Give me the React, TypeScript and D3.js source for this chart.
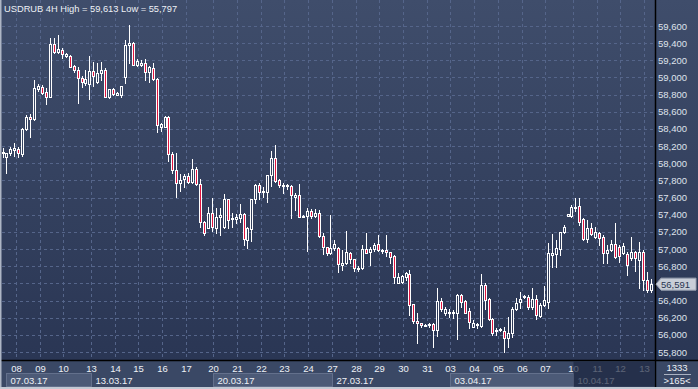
import { useRef, useEffect } from 'react'
import * as d3 from 'd3'

// USDRUB 4H candles
const opens = [
  58116, 58078, 58116, 58155, 58163, 58109, 58396, 58535, 58512, 58861,
  58892, 58834, 58776, 59389, 59296, 59319, 59250, 59250, 59133, 59086,
  58990, 58931, 58923, 59079, 58950, 59048, 59086, 58768, 58861, 58800,
  58796, 59000, 59377, 59397, 59145, 59150, 59172, 59067, 59106, 58978,
  58427, 58427, 58544, 58109, 57922, 57767, 57813, 57852, 57786, 57930,
  57759, 57320, 57250, 57417, 57250, 57370, 57262, 57580, 57348, 57348,
  57359, 57409, 57106, 57230, 57580, 57747, 57663, 57670, 57864, 58058,
  57806, 57738, 57740, 57736, 57612, 57631, 57370, 57386, 57448, 57386,
  57417, 57153, 57021, 56950, 57008, 57008, 56815, 56834, 56950, 56880,
  56764, 56776, 56997, 56970, 56997, 57059, 56978, 56989, 56970, 56919,
  56609, 56620, 56671, 56710, 56360, 56166, 56135, 56110, 56120, 56127,
  56057, 56399, 56251, 56260, 56260, 56251, 56465, 56399, 56282, 56096,
  56110, 56103, 56581, 56414, 56181, 56050, 56060, 56049, 55960, 56018,
  56298, 56387, 56438, 56438, 56321, 56414, 56220, 56348, 56387, 56931,
  56943, 57000, 57203, 57385, 57385, 57486, 57502, 57347, 57113, 57242,
  57145, 57191, 57137, 56958, 56989, 57059, 57028, 56950, 56943, 56892,
  56970, 56873, 56970, 56640, 56523,
]
const highs = [
  58182, 58124, 58186, 58240, 58194, 58407, 58563, 58574, 58970, 58923,
  58912, 58873, 59455, 59455, 59494, 59339, 59288, 59261, 59140, 59125,
  59017, 59086, 59250, 59180, 59164, 59183, 59106, 58870, 58880, 58830,
  58900, 59436, 59613, 59416, 59210, 59203, 59210, 59133, 59172, 58990,
  58474, 58552, 58552, 58136, 58124, 57876, 57876, 57883, 58046, 57961,
  57813, 57330, 57495, 57592, 57475, 57475, 57642, 57588, 57417, 57410,
  57526, 57425, 57262, 57588, 57759, 57767, 57720, 57864, 58148, 58214,
  57814, 57775, 57759, 57747, 57650, 57755, 57398, 57475, 57464, 57464,
  57456, 57192, 57029, 57397, 57106, 57020, 56989, 57215, 56970, 56885,
  56803, 57048, 57183, 57028, 57067, 57164, 57000, 57164, 56970, 56925,
  56725, 56700, 56737, 56756, 56360, 56251, 56142, 56130, 56135, 56142,
  56543, 56426, 56321, 56298, 56290, 56477, 56477, 56407, 56310, 56173,
  56135, 56710, 56601, 56426, 56193, 56076, 56076, 56096, 56205, 56321,
  56426, 56504, 56465, 56465, 56543, 56465, 56368, 56570, 57067, 57176,
  57106, 57203, 57281, 57410, 57514, 57591, 57591, 57358, 57339, 57300,
  57261, 57203, 57160, 57048, 57106, 57300, 57048, 57067, 56970, 57145,
  56982, 57087, 56990, 56737, 56648,
]
const lows = [
  58078, 57884, 58097, 58085, 58070, 58085, 58388, 58310, 58500, 58846,
  58807, 58690, 58770, 59288, 59288, 59222, 59234, 59117, 59067, 58706,
  58892, 58912, 58750, 58900, 58930, 58970, 58768, 58760, 58790, 58795,
  58776, 58931, 59164, 59145, 59133, 59133, 58970, 58950, 58970, 58369,
  58380, 58420, 58031, 57883, 57611, 57681, 57720, 57767, 57775, 57747,
  57262, 57165, 57242, 57215, 57184, 57165, 57242, 57242, 57262, 57308,
  57320, 57048, 57009, 57099, 57541, 57580, 57611, 57553, 57736, 57786,
  57720, 57650, 57697, 57359, 57456, 57370, 57370, 56982, 57359, 57370,
  57145, 56943, 56932, 56943, 56989, 56737, 56756, 56826, 56834, 56748,
  56748, 56764, 56958, 56814, 56981, 56981, 56958, 56920, 56842, 56601,
  56601, 56610, 56640, 56232, 56135, 55909, 56096, 56100, 56096, 55863,
  55987, 56282, 56232, 56205, 56193, 55948, 56329, 56251, 56076, 56088,
  56076, 56088, 56298, 56173, 55999, 55999, 56049, 55797, 55855, 55979,
  56290, 56310, 56426, 56298, 56298, 56181, 56212, 56337, 56310, 56787,
  56795, 56931, 57191, 57380, 57370, 57448, 57280, 57106, 57086, 57164,
  57125, 57048, 56842, 56834, 56980, 56892, 56853, 56940, 56698, 56873,
  56748, 56543, 56523, 56504, 56504,
]
const closes = [
  58136, 58116, 58163, 58175, 58124, 58396, 58535, 58512, 58873, 58900,
  58815, 58776, 59389, 59300, 59327, 59273, 59273, 59125, 59086, 58990,
  58943, 58978, 59079, 59017, 59048, 59086, 58768, 58861, 58807, 58822,
  58900, 59377, 59397, 59145, 59195, 59172, 59067, 59117, 58978, 58447,
  58458, 58544, 58109, 57922, 57767, 57806, 57852, 57786, 57930, 57759,
  57320, 57184, 57417, 57262, 57378, 57398, 57580, 57340, 57359, 57370,
  57409, 57114, 57242, 57580, 57747, 57670, 57682, 57864, 58058, 57798,
  57747, 57747, 57747, 57631, 57631, 57378, 57386, 57448, 57386, 57417,
  57153, 57029, 56951, 57008, 57059, 56826, 56842, 56970, 56880, 56776,
  56784, 56997, 56958, 56997, 57048, 56989, 56989, 56970, 56912, 56679,
  56679, 56690, 56717, 56348, 56166, 56135, 56111, 56120, 56127, 56057,
  56399, 56298, 56298, 56271, 56265, 56465, 56387, 56259, 56154, 56142,
  56125, 56581, 56407, 56181, 56018, 56057, 56065, 55960, 56018, 56298,
  56368, 56414, 56453, 56321, 56414, 56232, 56348, 56407, 56950, 56951,
  57009, 57203, 57261, 57408, 57486, 57494, 57319, 57113, 57242, 57176,
  57203, 57125, 56958, 56989, 57059, 56904, 56919, 57036, 56814, 56970,
  56892, 56970, 56640, 56523, 56591,
]

const dayLabels = ['08', '09', '10', '13', '14', '15', '16', '17', '20', '21', '22', '23', '24', '27', '28', '29', '30', '31', '03', '04', '05', '06', '07', '10', '11', '12', '13']
const dayStart = [4, 10, 16, 23, 29, 35, 41, 47, 54, 60, 66, 72, 78, 84, 90, 96, 102, 108, 114, 120, 126, 132, 138, 145, 151, 157, 163]
const weekLabels = ['07.03.17', '13.03.17', '20.03.17', '27.03.17', '03.04.17', '10.04.17']
const weekStart = [0, 23, 54, 84, 114, 145]

const title = 'USDRUB 4H High = 59,613 Low = 55,797'
const lastPrice = 56591
const counterTop = '1333'
const counterBottom = '>165<'

const W = 698
const H = 389
const plotRight = 655
const plotBottom = 360
const font = "'Liberation Sans', Arial, sans-serif"

const App = () => {
  const svgRef = useRef<SVGSVGElement>(null)

  useEffect(() => {
    const svg = d3.select(svgRef.current)
    svg.selectAll('*').remove()

    const x = d3.scaleLinear().domain([0, closes.length - 1]).range([2.5, 650.5])
    const y = d3.scaleLinear().domain([55800, 59600]).range([352, 26])
    const bx = (i: number) => Math.round(x(i) - 2.5) + 0.5

    const defs = svg.append('defs')
    const bg = defs
      .append('linearGradient')
      .attr('id', 'bg')
      .attr('gradientUnits', 'userSpaceOnUse')
      .attr('x1', 0).attr('y1', 0).attr('x2', 0).attr('y2', plotBottom)
    bg.append('stop').attr('offset', 0).attr('stop-color', '#3f4d6b')
    bg.append('stop').attr('offset', 1).attr('stop-color', '#2a3654')

    // panels
    svg.append('rect').attr('width', W).attr('height', plotBottom).attr('fill', 'url(#bg)')
    svg.append('rect').attr('y', plotBottom).attr('width', W).attr('height', H - plotBottom).attr('fill', '#3a4865')

    // grid
    const grid = svg.append('g').attr('stroke', '#55658a').attr('stroke-dasharray', '3,3').attr('stroke-width', 1)
    y.ticks(20).forEach((v) => {
      const yy = Math.round(y(v)) + 0.5
      grid.append('line').attr('x1', 2).attr('x2', plotRight).attr('y1', yy).attr('y2', yy)
    })
    dayStart.forEach((i) => {
      grid.append('line').attr('x1', bx(i)).attr('x2', bx(i)).attr('y1', 0).attr('y2', plotBottom)
    })

    // candles
    const candles = svg.append('g')
    closes.forEach((c, i) => {
      const o = opens[i]
      const cx = Math.round(x(i))
      const top = Math.round(y(Math.max(o, c)))
      const bot = Math.max(Math.round(y(Math.min(o, c))), top + 1)
      candles
        .append('line')
        .attr('x1', cx + 0.5).attr('x2', cx + 0.5)
        .attr('y1', Math.round(y(highs[i]))).attr('y2', Math.round(y(lows[i])) + 1)
        .attr('stroke', '#ffffff')
      candles
        .append('rect')
        .attr('x', cx - 0.5).attr('y', top + 0.5)
        .attr('width', 2).attr('height', bot - top)
        .attr('fill', c < o ? '#e0143f' : 'url(#bg)')
        .attr('stroke', '#ffffff')
    })

    // title
    svg.append('text').attr('x', 4).attr('y', 12).text(title)
      .attr('fill', '#eef1f6').style('font', `9.3px ${font}`)

    // right axis
    svg.append('line').attr('x1', plotRight + 0.5).attr('x2', plotRight + 0.5).attr('y1', 0).attr('y2', H - 2)
      .attr('stroke', '#000').attr('stroke-width', 1.5)
    const ly = y(lastPrice)
    y.ticks(20)
      .filter((v) => Math.abs(y(v) - ly) > 9)
      .forEach((v) => {
        svg.append('text').attr('x', 658).attr('y', y(v) + 3.5).text(d3.format(',')(v))
          .attr('fill', '#dfe3ec').style('font', `9.5px ${font}`)
      })

    // last price tag
    svg.append('path')
      .attr('d', `M656,${ly} L661,${ly - 6} L696,${ly - 6} L696,${ly + 6} L661,${ly + 6} Z`)
      .attr('fill', '#c9ced8').attr('stroke', '#9aa2b2')
    svg.append('text').attr('x', 661).attr('y', ly + 3.5).text(d3.format(',')(lastPrice))
      .attr('fill', '#2a3450').style('font', `9.5px ${font}`)

    // bottom axis
    svg.append('line').attr('x1', 0).attr('x2', W).attr('y1', plotBottom + 0.5).attr('y2', plotBottom + 0.5)
      .attr('stroke', '#000').attr('stroke-width', 1.5)

    const weekEnd = (k: number) => (k + 1 < weekStart.length ? bx(weekStart[k + 1]) : plotRight)
    weekLabels.forEach((lab, k) => {
      const x0 = k === 0 ? 6.5 : bx(weekStart[k])
      const x1 = weekEnd(k)
      if (k % 2 === 0) {
        svg.append('rect').attr('x', x0).attr('y', 373.5).attr('width', x1 - x0).attr('height', 13)
          .attr('fill', '#4c5a77').attr('stroke', '#63708c')
      }
      svg.append('text').attr('x', x0 + 4).attr('y', 384).text(lab)
        .attr('fill', '#eef1f6').style('font', `9.5px ${font}`)
    })
    dayLabels.forEach((lab, k) => {
      svg.append('text').attr('x', bx(dayStart[k])).attr('y', 372).text(lab)
        .attr('text-anchor', 'middle')
        .attr('fill', '#eef1f6').style('font', `9.5px ${font}`)
    })
    // current week shaded
    const lastX = bx(weekStart[weekStart.length - 1])
    svg.append('rect').attr('x', lastX).attr('y', plotBottom + 1.5).attr('width', plotRight - lastX)
      .attr('height', H - plotBottom - 4).attr('fill', '#1c2640').attr('opacity', 0.7)

    // counters
    svg.append('text').attr('x', 677).attr('y', 371).text(counterTop).attr('text-anchor', 'middle')
      .attr('fill', '#eef1f6').style('font', `9.5px ${font}`)
    svg.append('line').attr('x1', 664).attr('x2', 691).attr('y1', 374.5).attr('y2', 374.5).attr('stroke', '#aab2c2')
    svg.append('text').attr('x', 677).attr('y', 384).text(counterBottom).attr('text-anchor', 'middle')
      .attr('fill', '#eef1f6').style('font', `9.5px ${font}`)

    // frame
    svg.append('rect').attr('x', 0).attr('y', 0).attr('width', 1.5).attr('height', H).attr('fill', '#aeb6c5')
    svg.append('rect').attr('x', 0).attr('y', H - 2).attr('width', W).attr('height', 2).attr('fill', '#c3c9d4')
  }, [])

  return (
    <svg
      ref={svgRef}
      width={W}
      height={H}
      style={{ position: 'fixed', left: 0, top: 0, display: 'block' }}
    />
  )
}

export default App
